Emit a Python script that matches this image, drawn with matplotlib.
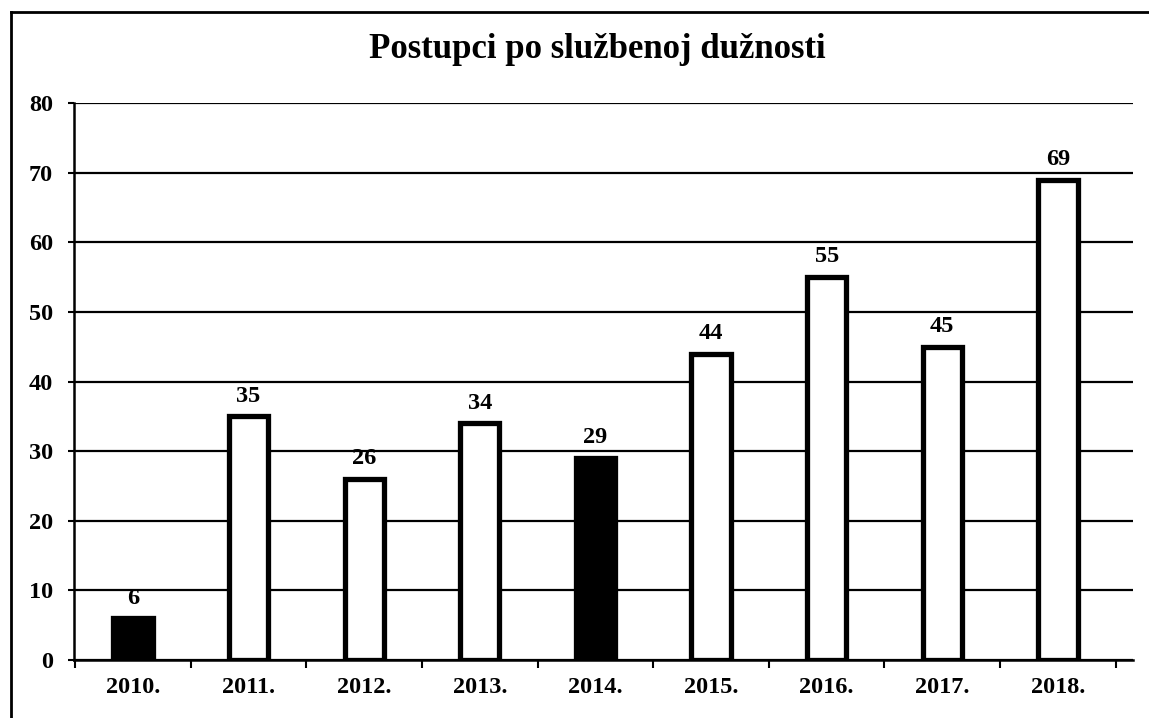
import matplotlib
matplotlib.use("Agg")
import matplotlib.pyplot as plt
from matplotlib.lines import Line2D

years = ["2010.", "2011.", "2012.", "2013.", "2014.", "2015.", "2016.", "2017.", "2018."]
values = [6, 35, 26, 34, 29, 44, 55, 45, 69]
fills = ["black", "white", "white", "white", "black", "white", "white", "white", "white"]
yticks = [0, 10, 20, 30, 40, 50, 60, 70, 80]
title = "Postupci po službenoj dužnosti"

plt.rcParams['font.family'] = ['Liberation Serif', 'DejaVu Serif']

W, H = 1149, 718
fig = plt.figure(figsize=(W / 100, H / 100), dpi=100)
ax = fig.add_axes([74 / W, 1 - 660 / H, (1133 - 74) / W, (660 - 103) / H])

x = list(range(len(years)))
ax.set_axisbelow(True)
ax.yaxis.grid(True, color="black", linewidth=1.6)
ax.bar(x, values, width=0.34, color=fills, edgecolor="black", linewidth=3.8, zorder=3)

for xi, v in zip(x, values):
    ax.annotate(str(v), (xi, v), xytext=(0, 7), textcoords="offset points",
                ha="center", va="bottom", fontsize=17.5, fontweight="bold")

ax.set_xlim(-0.51, 8.65)
ax.set_ylim(0, 80)
ax.set_yticks(yticks)
ax.set_yticklabels([str(t) for t in yticks], fontsize=17.5, fontweight="bold")
ax.set_xticks(x)
ax.set_xticklabels(years, fontsize=17.5, fontweight="bold")
ax.tick_params(axis="x", length=0, pad=12)
ax.set_xticks([i - 0.5 for i in range(len(years) + 1)], minor=True)
ax.tick_params(axis="x", which="minor", length=6, width=1.5, direction="out")
ax.tick_params(axis="y", length=4, width=1.5, pad=11)

for s in ["top", "right"]:
    ax.spines[s].set_visible(False)
for s in ["left", "bottom"]:
    ax.spines[s].set_linewidth(1.8)

fig.text(597 / W, 1 - 49 / H, title, ha="center", va="center",
         fontsize=25, fontweight="bold")

# scanned frame lines
fig.add_artist(Line2D([11 / W, 11 / W], [0, 1 - 12 / H], color="black", linewidth=2.0,
                      transform=fig.transFigure))
fig.add_artist(Line2D([11 / W, 1], [1 - 12 / H, 1 - 12 / H], color="black", linewidth=2.0,
                      transform=fig.transFigure))

fig.savefig("out.png", dpi=100)
